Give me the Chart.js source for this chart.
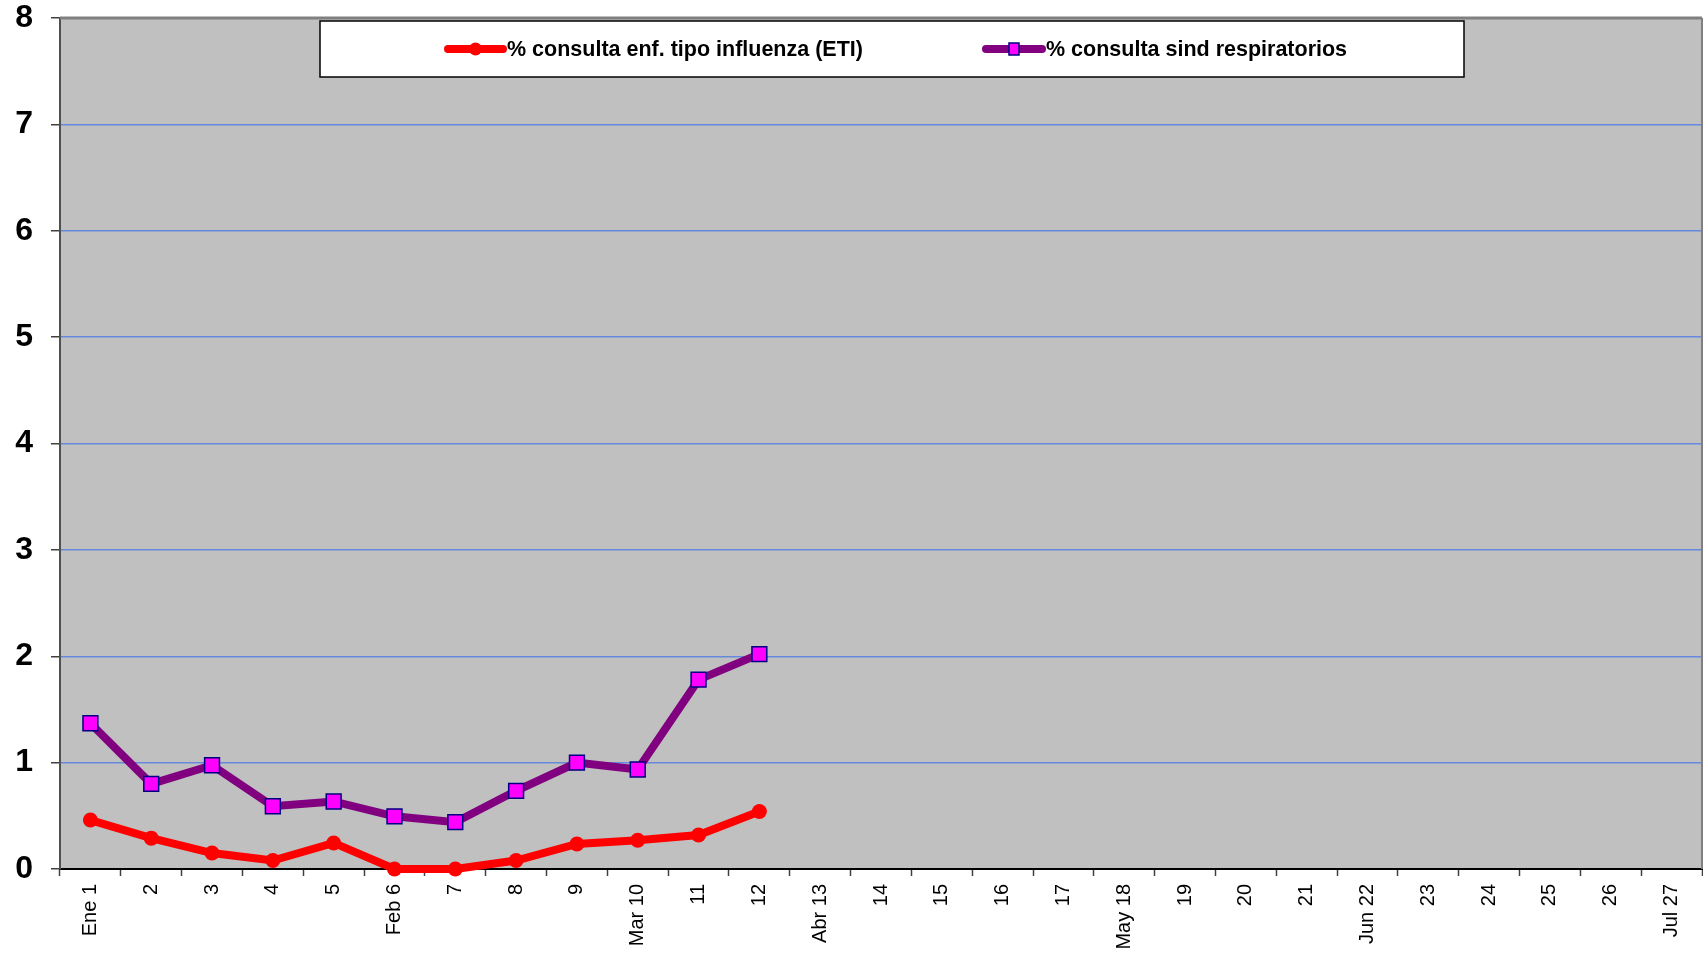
<!DOCTYPE html>
<html>
<head>
<meta charset="utf-8">
<script src="https://cdn.jsdelivr.net/npm/chart.js@4"></script>
<style>
    body { margin: 0; background: #fff; }
    #wrap { width: 1703px; height: 956px; }
</style>
</head>
<body>
<div id="wrap"><canvas id="chart" width="1703" height="956"></canvas></div>
<script>
/* ---------- 資料 ---------- */
const semanas = [
    "Ene 1", "2", "3", "4", "5", "Feb 6", "7", "8", "9", "Mar 10", "11", "12",
    "Abr 13", "14", "15", "16", "17", "May 18", "19", "20", "21", "Jun 22",
    "23", "24", "25", "26", "Jul 27"
];
const etiValores = [0.46, 0.29, 0.15, 0.08, 0.245, 0, 0, 0.08, 0.235, 0.27, 0.32, 0.54];
const respValores = [1.37, 0.80, 0.975, 0.59, 0.635, 0.495, 0.44, 0.735, 1.0, 0.935, 1.78, 2.02];
const yTicks = [0, 1, 2, 3, 4, 5, 6, 7, 8];

const etiLabel = "% consulta enf. tipo influenza (ETI)";
const respLabel = "% consulta sind respiratorios";

const FONT = "'Liberation Sans', Arial, sans-serif";

/* ---------- 背景、外框與圖例 ---------- */
const plotBox = {
    id: "plotBox",
    beforeDraw(chart) {
        const { ctx, chartArea: a } = chart;
        ctx.save();
        ctx.fillStyle = "#c0c0c0";
        ctx.fillRect(a.left, a.top, a.right - a.left, a.bottom - a.top);
        ctx.restore();
    },
    afterDatasetsDraw(chart) {
        const { ctx, chartArea: a } = chart;
        ctx.save();
        ctx.strokeStyle = "#808080";
        ctx.lineWidth = 3;
        ctx.beginPath();
        ctx.moveTo(a.left, a.top);
        ctx.lineTo(a.right, a.top);
        ctx.stroke();
        ctx.lineWidth = 2;
        ctx.beginPath();
        ctx.moveTo(a.right, a.top);
        ctx.lineTo(a.right, a.bottom);
        ctx.stroke();

        // leyenda
        const lx = 320, ly = 21, lw = 1144, lh = 56, cy = ly + 28;
        ctx.fillStyle = "#fff";
        ctx.fillRect(lx, ly, lw, lh);
        ctx.strokeStyle = "#000";
        ctx.lineWidth = 1.5;
        ctx.strokeRect(lx, ly, lw, lh);

        const ds = chart.data.datasets;
        const items = [
            { d: ds[0], x0: 448, x1: 503, tx: 507 },
            { d: ds[1], x0: 986, x1: 1042, tx: 1046 }
        ];
        items.forEach(it => {
            ctx.strokeStyle = it.d.borderColor;
            ctx.lineWidth = 8;
            ctx.lineCap = "round";
            ctx.beginPath();
            ctx.moveTo(it.x0, cy);
            ctx.lineTo(it.x1, cy);
            ctx.stroke();
            const mx = (it.x0 + it.x1) / 2;
            if (it.d.pointStyle === "rect") {
                ctx.fillStyle = it.d.pointBackgroundColor;
                ctx.fillRect(mx - 5, cy - 6, 10, 12);
                ctx.strokeStyle = it.d.pointBorderColor;
                ctx.lineWidth = 1.5;
                ctx.strokeRect(mx - 5, cy - 6, 10, 12);
            } else {
                ctx.fillStyle = it.d.pointBackgroundColor;
                ctx.beginPath();
                ctx.arc(mx, cy, 6.5, 0, Math.PI * 2);
                ctx.fill();
            }
            ctx.fillStyle = "#000";
            ctx.font = "bold 21.5px " + FONT;
            ctx.textAlign = "left";
            ctx.textBaseline = "middle";
            ctx.fillText(it.d.label, it.tx, cy + 1);
        });
        ctx.restore();
    }
};

/* ---------- 圖表 ---------- */
new Chart(document.getElementById("chart"), {
    type: "line",
    data: {
        labels: semanas,
        datasets: [
            {
                label: etiLabel,
                data: etiValores,
                borderColor: "#ff0000",
                borderWidth: 8,
                pointStyle: "circle",
                pointRadius: 7.5,
                pointBackgroundColor: "#ff0000",
                pointBorderColor: "#ff0000",
                pointBorderWidth: 0,
                clip: false
            },
            {
                label: respLabel,
                data: respValores,
                borderColor: "#800080",
                borderWidth: 8,
                pointStyle: "rect",
                pointRadius: 10.5,
                pointBackgroundColor: "#ff00ff",
                pointBorderColor: "#000080",
                pointBorderWidth: 1.5,
                clip: false
            }
        ]
    },
    options: {
        responsive: false,
        animation: false,
        events: [],
        layout: { autoPadding: false, padding: { top: 18, right: 1, left: 0, bottom: 0 } },
        plugins: {
            legend: { display: false },
            tooltip: { enabled: false }
        },
        scales: {
            x: {
                type: "category",
                offset: true,
                afterFit: s => {
                    s.height = 87;
                    s.paddingLeft = 0;
                    s.paddingRight = 0;
                },
                grid: {
                    offset: true,
                    drawOnChartArea: false,
                    drawTicks: true,
                    tickLength: 7,
                    tickColor: "#404040",
                    tickWidth: 1.5
                },
                border: { color: "#000", width: 2 },
                ticks: {
                    autoSkip: false,
                    minRotation: 90,
                    maxRotation: 90,
                    padding: 8,
                    color: "#000",
                    font: { family: FONT, size: 20 }
                }
            },
            y: {
                min: 0,
                max: 8,
                afterFit: s => {
                    s.width = 60;
                    s.paddingTop = 0;
                    s.paddingBottom = 0;
                },
                afterBuildTicks: s => { s.ticks = yTicks.map(v => ({ value: v })); },
                grid: {
                    color: "#6688dd",
                    lineWidth: 1.5,
                    tickColor: "#404040",
                    tickLength: 9,
                    tickWidth: 1.5
                },
                border: { color: "#505050", width: 2 },
                ticks: {
                    padding: 18,
                    color: "#000",
                    font: { family: FONT, size: 32, weight: "bold" }
                }
            }
        }
    },
    plugins: [plotBox]
});
</script>
</body>
</html>
